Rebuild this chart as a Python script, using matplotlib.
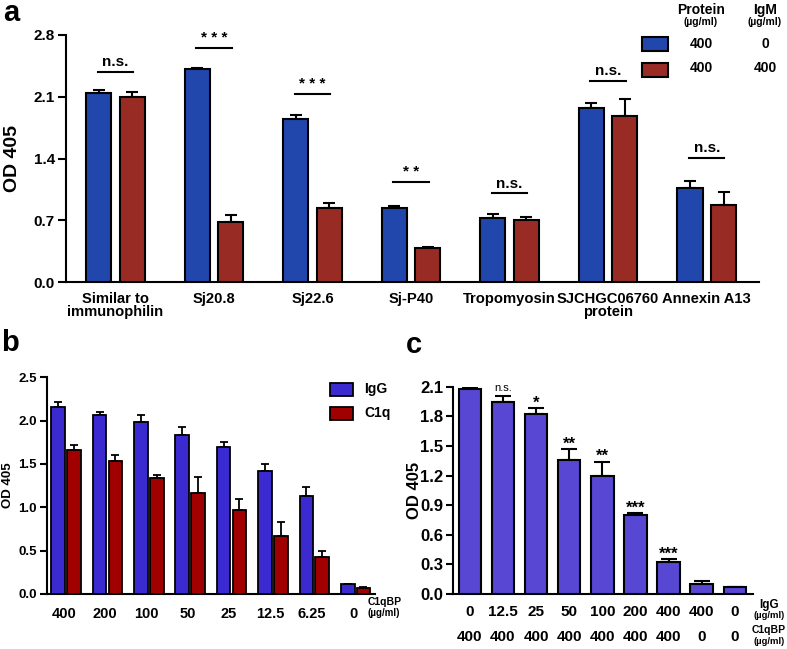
import numpy as np
import matplotlib
matplotlib.use("Agg")
import matplotlib.pyplot as plt
from matplotlib.patches import Rectangle
from matplotlib.transforms import blended_transform_factory

plt.rcParams['font.family'] = ['Liberation Sans', 'DejaVu Sans']
plt.rcParams['font.weight'] = 'bold'
plt.rcParams['axes.labelweight'] = 'bold'

# ---------------- data: panel a ----------------
a_categories = ["Similar to\nimmunophilin", "Sj20.8", "Sj22.6", "Sj-P40",
                "Tropomyosin", "SJCHGC06760\nprotein", "Annexin A13"]
a_blue = [2.14, 2.415, 1.85, 0.835, 0.73, 1.97, 1.07]
a_blue_err = [0.04, 0.015, 0.04, 0.03, 0.045, 0.06, 0.07]
a_red = [2.10, 0.68, 0.84, 0.39, 0.70, 1.885, 0.87]
a_red_err = [0.05, 0.08, 0.05, 0.01, 0.04, 0.185, 0.15]
a_sig = ["n.s.", "* * *", "* * *", "* *", "n.s.", "n.s.", "n.s."]
a_sig_h = [2.385, 2.656, 2.13, 1.137, 1.005, 2.28, 1.41]
a_yticks = [0.0, 0.7, 1.4, 2.1, 2.8]

# ---------------- data: panel b ----------------
b_categories = ["400", "200", "100", "50", "25", "12.5", "6.25", "0"]
b_igg = [2.16, 2.07, 1.99, 1.83, 1.70, 1.42, 1.13, 0.11]
b_igg_err = [0.06, 0.03, 0.07, 0.10, 0.05, 0.08, 0.11, 0.01]
b_c1q = [1.66, 1.54, 1.34, 1.16, 0.965, 0.67, 0.43, 0.07]
b_c1q_err = [0.055, 0.06, 0.03, 0.19, 0.135, 0.16, 0.07, 0.01]
b_yticks = [0.0, 0.5, 1.0, 1.5, 2.0, 2.5]

# ---------------- data: panel c ----------------
c_igg = ["0", "12.5", "25", "50", "100", "200", "400", "400", "0"]
c_c1qbp = ["400", "400", "400", "400", "400", "400", "400", "0", "0"]
c_vals = [2.08, 1.945, 1.823, 1.357, 1.20, 0.80, 0.32, 0.10, 0.068]
c_err = [0.01, 0.06, 0.057, 0.108, 0.14, 0.017, 0.03, 0.03, 0.006]
c_sig = ["", "n.s.", "*", "**", "**", "***", "***", "", ""]
c_yticks = [0.0, 0.3, 0.6, 0.9, 1.2, 1.5, 1.8, 2.1]

W, H = 787, 649
fig = plt.figure(figsize=(W / 100, H / 100), dpi=100)


def fx(x):
    return x / W


def fy(y):
    return 1 - y / H


def style_axes(ax, lw):
    for s in ['top', 'right']:
        ax.spines[s].set_visible(False)
    for s in ['left', 'bottom']:
        ax.spines[s].set_linewidth(lw)


# ================= panel a =================
blue_a = '#2147ad'
red_a = '#992b25'
ax = fig.add_axes([fx(66), fy(282), fx(759) - fx(66), fy(35) - fy(282)])
x = np.arange(len(a_categories))
off, bw = 0.17, 0.254
ax.bar(x - off, a_blue, bw, color=blue_a, edgecolor='black', linewidth=1.5, zorder=3)
ax.bar(x + off, a_red, bw, color=red_a, edgecolor='black', linewidth=1.5, zorder=3)
ax.errorbar(x - off, a_blue, yerr=[np.zeros(len(x)), a_blue_err], fmt='none',
            ecolor='black', elinewidth=1.5, capsize=4.3, capthick=1.5, zorder=2)
ax.errorbar(x + off, a_red, yerr=[np.zeros(len(x)), a_red_err], fmt='none',
            ecolor='black', elinewidth=1.5, capsize=4.3, capthick=1.5, zorder=2)
for xi, s, h in zip(x, a_sig, a_sig_h):
    ax.plot([xi - 0.18, xi + 0.18], [h, h], color='black', lw=1.5, clip_on=False)
    ax.text(xi, h + 0.03, s, ha='center', va='bottom', fontsize=11, fontweight='bold')
ax.set_xlim(-0.5, 6.53)
ax.set_ylim(0, 2.8)
ax.set_yticks(a_yticks)
ax.set_yticklabels([f"{v:.1f}" for v in a_yticks])
ax.set_xticks(x)
ax.set_xticklabels(a_categories, linespacing=0.95)
ax.tick_params(axis='x', length=0, pad=7, labelsize=10.6)
ax.tick_params(axis='y', length=6, width=1.5, pad=2, labelsize=11)
ax.set_ylabel("OD 405", fontsize=14)
ax.yaxis.set_label_coords((21 - 66) / 693, 0.5)
style_axes(ax, 1.5)

# legend panel a
for (y0, col) in [(37, blue_a), (63, red_a)]:
    fig.patches.append(Rectangle((fx(642), fy(y0 + 14)), fx(668) - fx(642), fy(y0) - fy(y0 + 14),
                                 transform=fig.transFigure, facecolor=col, edgecolor='black', lw=1.5))
fig.text(fx(701), fy(10), "Protein", ha='center', va='center', fontsize=10)
fig.text(fx(701), fy(22), "(µg/ml)", ha='center', va='center', fontsize=7.5)
fig.text(fx(765), fy(10), "IgM", ha='center', va='center', fontsize=10)
fig.text(fx(765), fy(22), "(µg/ml)", ha='center', va='center', fontsize=7.5)
fig.text(fx(701), fy(44), "400", ha='center', va='center', fontsize=10)
fig.text(fx(765), fy(44), "0", ha='center', va='center', fontsize=10)
fig.text(fx(701), fy(68), "400", ha='center', va='center', fontsize=10)
fig.text(fx(765), fy(68), "400", ha='center', va='center', fontsize=10)
fig.text(fx(3), fy(13), "a", ha='left', va='center', fontsize=21)

# ================= panel b =================
blue_b = '#3b2ad0'
red_b = '#a00000'
ax = fig.add_axes([fx(46.7), fy(594), fx(375) - fx(46.7), fy(377.3) - fy(594)])
x = np.arange(len(b_categories))
off, bw = 0.19, 0.33
ax.bar(x - off, b_igg, bw, color=blue_b, edgecolor='black', linewidth=1.3, zorder=3)
ax.bar(x + off, b_c1q, bw, color=red_b, edgecolor='black', linewidth=1.3, zorder=3)
ax.errorbar(x - off, b_igg, yerr=[np.zeros(len(x)), b_igg_err], fmt='none',
            ecolor='black', elinewidth=1.3, capsize=3, capthick=1.3, zorder=2)
ax.errorbar(x + off, b_c1q, yerr=[np.zeros(len(x)), b_c1q_err], fmt='none',
            ecolor='black', elinewidth=1.3, capsize=3, capthick=1.3, zorder=2)
ax.set_xlim(-0.47, 7.47)
ax.set_ylim(0, 2.5)
ax.set_yticks(b_yticks)
ax.set_yticklabels([f"{v:.1f}" for v in b_yticks])
ax.set_xticks(x - 0.06)
ax.set_xticklabels(b_categories)
ax.tick_params(axis='x', length=0, pad=9, labelsize=10.5)
ax.tick_params(axis='y', length=5, width=1.5, pad=2, labelsize=9.5)
ax.set_ylabel("OD 405", fontsize=9.5)
ax.yaxis.set_label_coords((14 - 46.7) / 328.3, 0.5)
style_axes(ax, 1.5)
for (y0, col, lab) in [(383, blue_b, "IgG"), (407, red_b, "C1q")]:
    fig.patches.append(Rectangle((fx(330), fy(y0 + 12.5)), fx(353) - fx(330), fy(y0) - fy(y0 + 12.5),
                                 transform=fig.transFigure, facecolor=col, edgecolor='black', lw=1.3))
    fig.text(fx(364), fy(y0 + 6.5), lab, ha='left', va='center', fontsize=10)
fig.text(fx(368), fy(602), "C1qBP", ha='left', va='center', fontsize=7.5)
fig.text(fx(368), fy(613), "(µg/ml)", ha='left', va='center', fontsize=7)
fig.text(fx(1), fy(343), "b", ha='left', va='center', fontsize=21)

# ================= panel c =================
col_c = '#5747d3'
ax = fig.add_axes([fx(453.3), fy(594), fx(752.7) - fx(453.3), fy(386.7) - fy(594)])
x = np.arange(len(c_vals))
ax.bar(x, c_vals, 0.68, color=col_c, edgecolor='black', linewidth=1.5, zorder=3)
ax.errorbar(x, c_vals, yerr=[np.zeros(len(x)), c_err], fmt='none',
            ecolor='black', elinewidth=1.5, capsize=5.5, capthick=1.5, zorder=2)
for xi, v, e, s in zip(x, c_vals, c_err, c_sig):
    if not s:
        continue
    if s == "n.s.":
        ax.text(xi, v + e + 0.03, s, ha='center', va='bottom', fontsize=8, fontweight='normal')
    else:
        ax.text(xi, v + e - 0.02, s, ha='center', va='bottom', fontsize=12)
ax.set_xlim(-0.5, 8.54)
ax.set_ylim(0, 2.1)
ax.set_yticks(c_yticks)
ax.set_yticklabels([f"{v:.1f}" for v in c_yticks])
ax.set_xticks([])
ax.tick_params(axis='y', length=5, width=1.5, pad=2, labelsize=12)
ax.set_ylabel("OD 405", fontsize=12)
ax.yaxis.set_label_coords((422 - 453.3) / 299.4, 0.5)
style_axes(ax, 1.5)
tr = blended_transform_factory(ax.transData, fig.transFigure)
for xi, g, c in zip(x, c_igg, c_c1qbp):
    ax.text(xi, fy(612), g, transform=tr, ha='center', va='center', fontsize=11)
    ax.text(xi, fy(637), c, transform=tr, ha='center', va='center', fontsize=11)
fig.text(fx(769), fy(605), "IgG", ha='center', va='center', fontsize=8.5)
fig.text(fx(769), fy(616), "(µg/ml)", ha='center', va='center', fontsize=6.8)
fig.text(fx(769), fy(630), "C1qBP", ha='center', va='center', fontsize=7.5)
fig.text(fx(769), fy(641), "(µg/ml)", ha='center', va='center', fontsize=6.8)
fig.text(fx(406), fy(345), "c", ha='left', va='center', fontsize=21)

fig.savefig("out.png", dpi=100)
